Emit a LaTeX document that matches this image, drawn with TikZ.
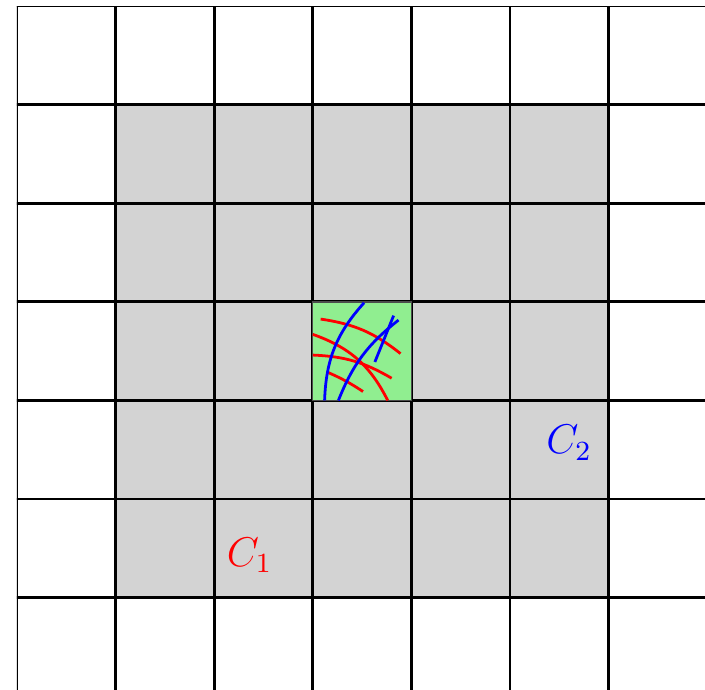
\documentclass[tikz,border=0pt]{standalone}
\usetikzlibrary{positioning}
\definecolor{zonegray}{RGB}{211,211,211}
\definecolor{cellgreen}{RGB}{144,238,144}

\begin{document}
\begin{tikzpicture}[
  gridline/.style={thick, black},
  zone/.style={fill=zonegray},
  cell/.style={fill=cellgreen, draw=black!70, thin},
  redcurve/.style={thick, red},
  bluecurve/.style={thick, blue},
  label/.style={font=\large}
]

% Marco de la imagen
\useasboundingbox (-0.172,0.067) rectangle (6.978,7.061);
\clip (0,0.067) rectangle (6.978,7);

% Vecindad gris
\fill[zone] (1,1) rectangle (6,6);

% Rejilla
\foreach \i in {0,...,7} {
  \draw[gridline] (\i,-0.5) -- (\i,7.5);
  \draw[gridline] (-0.5,\i) -- (7.5,\i);
}

% Celda central
\draw[cell] (3,3) rectangle (4,4);

% Curvas rojas
\draw[redcurve] (3.08,3.825) to[bend left=15] (3.89,3.475);
\draw[redcurve] (3,3.67) to[bend left=22] (3.76,3);
\draw[redcurve] (3,3.46) to[bend left=14] (3.80,3.225);
\draw[redcurve] (3.14,3.29) to[bend left=5] (3.51,3.09);

% Curvas azules
\draw[bluecurve] (3.52,3.99) to[bend right=20] (3.12,3);
\draw[bluecurve] (3.26,3) to[bend left=15] (3.87,3.815);
\draw[bluecurve] (3.82,3.86) -- (3.63,3.39);

% Etiquetas
\node[label, red] (c1) at (2.36,1.43) {$C_1$};
\node[label, blue] (c2) at (5.6,2.57) {$C_2$};

\end{tikzpicture}
\end{document}
